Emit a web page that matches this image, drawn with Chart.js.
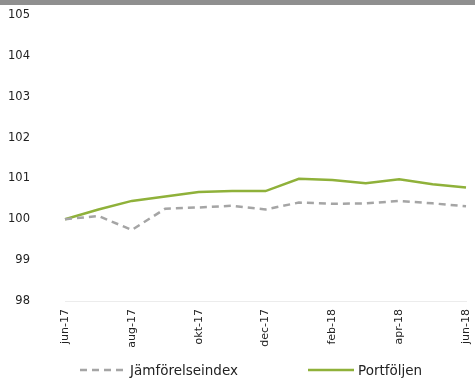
<!DOCTYPE html>
<html>
<head>
<meta charset="utf-8">
<script src="https://cdn.jsdelivr.net/npm/chart.js@4"></script>
<style>
  html, body { margin: 0; padding: 0; background: #fff; }
  #wrap { width: 475px; height: 378px; position: relative; }
  #legend {
    position: absolute; left: 0; top: 361px; width: 475px; height: 18px;
    font: 13.5px 'DejaVu Sans', Verdana, sans-serif; color: #222;
  }
  #legend .item { position: absolute; top: 0; display: flex; align-items: center; height: 18px; }
  #legend svg { margin-right: 4px; }
</style>
</head>
<body>
<div id="wrap">
  <canvas id="chart"></canvas>
  <div id="legend"></div>
</div>
<script>
const MONTHS = [
  "jun-17","jul-17","aug-17","sep-17","okt-17","nov-17","dec-17",
  "jan-18","feb-18","mar-18","apr-18","maj-18","jun-18",
];
const INDEX_VALUES = [100, 100.08, 99.74, 100.26, 100.29, 100.33, 100.24, 100.41, 100.38, 100.39, 100.45, 100.39, 100.32];
const PORTFOLIO_VALUES = [100, 100.24, 100.45, 100.56, 100.67, 100.69, 100.69, 100.99, 100.96, 100.88, 100.98, 100.86, 100.78];
const Y_MIN = 98;
const Y_MAX = 105;

const FONT = "'DejaVu Sans', Verdana, sans-serif";

// grey header strip along the top edge
const headerBand = {
  id: "headerBand",
  beforeDraw(chart) {
    const { ctx, width } = chart;
    ctx.save();
    ctx.fillStyle = "#8f8f8f";
    ctx.fillRect(0, 0, width, 5);
    ctx.restore();
  },
};

const chart = new Chart(document.getElementById("chart"), {
  type: "line",
  data: {
    labels: MONTHS,
    datasets: [
      {
        label: "Jämförelseindex",
        data: INDEX_VALUES,
        borderColor: "#a5a5a5",
        borderWidth: 2.5,
        borderDash: [7, 5],
        pointRadius: 0,
        tension: 0,
      },
      {
        label: "Portföljen",
        data: PORTFOLIO_VALUES,
        borderColor: "#8fb13a",
        borderWidth: 2.5,
        pointRadius: 0,
        tension: 0,
      },
    ],
  },
  options: {
    responsive: true,
    maintainAspectRatio: false,
    animation: false,
    layout: { padding: { top: 15, right: 9, left: 0, bottom: 22 } },
    plugins: {
      tooltip: { enabled: false },
      legend: { display: false },
    },
    scales: {
      x: {
        type: "category",
        offset: false,
        grid: { display: false, drawTicks: false },
        border: { display: true, color: "#ececec" },
        ticks: {
          autoSkip: false,
          minRotation: 90,
          maxRotation: 90,
          padding: 8,
          color: "#222",
          font: { family: FONT, size: 11 },
          callback: (v, i) => (i % 2 === 0 ? MONTHS[i] : ""),
        },
        afterFit(scale) {
          scale.height = 55;
          scale.paddingLeft = 0;
          scale.paddingRight = 0;
        },
      },
      y: {
        min: Y_MIN,
        max: Y_MAX,
        grid: { display: false, drawTicks: false },
        border: { display: false },
        ticks: {
          stepSize: 1,
          padding: 35,
          color: "#222",
          font: { family: FONT, size: 11.5 },
        },
        // wide label gap without pushing the plot down
        afterFit(scale) {
          scale.width = 65;
          scale.paddingTop = 7;
          scale.paddingBottom = 7;
        },
      },
    },
  },
  plugins: [headerBand],
});

// legend row under the chart, built from the dataset styles
const LEGEND_X = [80, 308];
const legendEl = document.getElementById("legend");
chart.data.datasets.forEach((ds, i) => {
  const item = document.createElement("div");
  item.className = "item";
  item.style.left = LEGEND_X[i] + "px";
  const dash = ds.borderDash ? ds.borderDash.join(" ") : "none";
  item.innerHTML =
    `<svg width="46" height="6"><line x1="0" y1="3" x2="46" y2="3" stroke="${ds.borderColor}"` +
    ` stroke-width="2.5" stroke-dasharray="${dash}"/></svg><span>${ds.label}</span>`;
  legendEl.appendChild(item);
});
</script>
</body>
</html>
